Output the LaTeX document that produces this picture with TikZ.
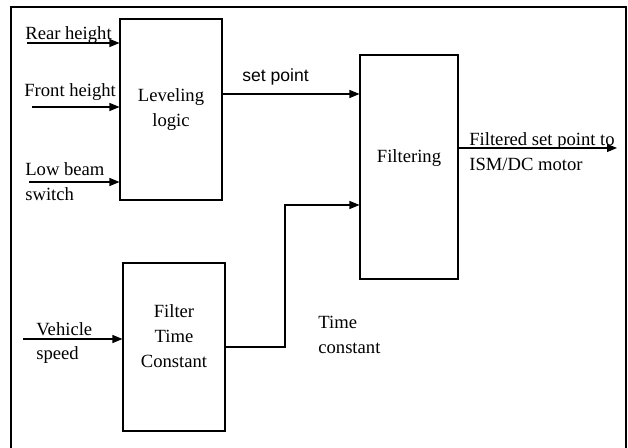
\documentclass[tikz,border=0pt]{standalone}
\usepackage{fontspec}
\setmainfont{Liberation Serif}
\newfontfamily\arialfont{Liberation Sans}
\usetikzlibrary{arrows.meta,positioning,calc}

\begin{document}
\begin{tikzpicture}[
  x=0.02cm, y=-0.02cm,
  blk/.style={draw, line width=0.6pt, align=center, inner sep=2pt, font=\fontsize{10.6}{14.2}\selectfont},
  arr/.style={-{Triangle[length=2mm, width=1.6mm]}, line width=0.6pt},
  lbl/.style={anchor=west, inner sep=0pt, align=left, font=\fontsize{10.6}{14.2}\selectfont}
]
  \useasboundingbox (0,0) rectangle (628,448);
  \draw[line width=1.1pt] (11,7) rectangle (626,470);

  \node[blk, minimum width=2.04cm, minimum height=3.62cm] (lev) at (171,109.5) {Leveling\\logic};
  \node[blk, minimum width=1.96cm, minimum height=4.48cm, text depth=0.42cm] (filt) at (409,167) {Filtering};
  \node[blk, minimum width=2.04cm, minimum height=3.36cm, text depth=0.45cm] (ftc) at (174,347) {Filter\\Time\\Constant};

  \node[lbl] (rear) at (25,35) {Rear height};
  \node[lbl] (front) at (24,92.5) {Front height};
  \node[lbl] (low) at (25,182) {Low beam\\switch};
  \node[lbl] (veh) at (36,343) {Vehicle\\speed};
  \node[lbl, font=\arialfont\fontsize{10}{12}\selectfont] (spl) at (242,77) {set point};
  \node[lbl] (outl) at (469,152) {Filtered set point to\\ISM/DC motor};
  \node[lbl] (tcl) at (318,335) {Time\\constant};

  \coordinate (rin) at (27,43);
  \coordinate (fin) at (32,107);
  \coordinate (lin) at (29,182);
  \coordinate (vin) at (23,339);
  \coordinate (sp) at (0,94);
  \coordinate (tc) at (285,205);
  \coordinate (out) at (617,148);

  \draw[arr] (rin) -- (rin -| lev.west);
  \draw[arr] (fin) -- (fin -| lev.west);
  \draw[arr] (lin) -- (lin -| lev.west);
  \draw[arr] (vin) -- (vin -| ftc.west);
  \draw[arr] (lev.east |- sp) -- (filt.west |- sp);
  \draw[arr] (ftc.east) -| (tc) -- (filt.west |- tc);
  \draw[arr] (out -| filt.east) -- (out);
\end{tikzpicture}
\end{document}
